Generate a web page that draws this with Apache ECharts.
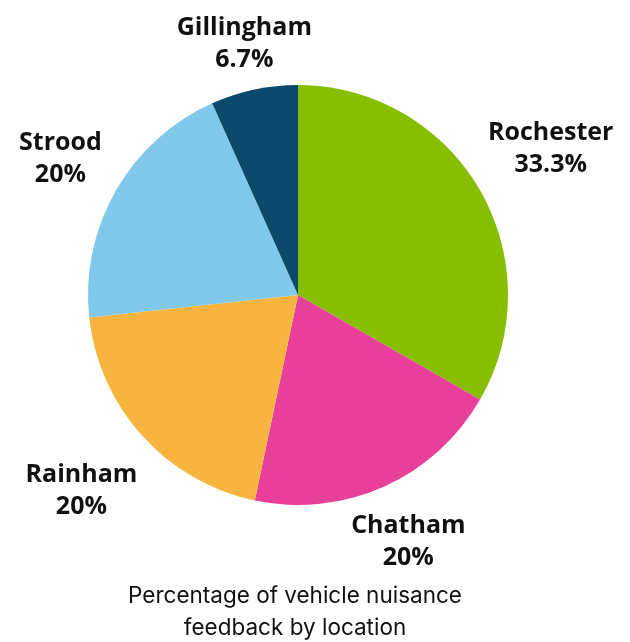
<!DOCTYPE html>
<html>
<head>
<meta charset="utf-8">
<script src="https://cdn.jsdelivr.net/npm/echarts@6/dist/echarts.min.js"></script>
<style>
  html, body { margin: 0; padding: 0; background: #ffffff; }
  #chart { width: 630px; height: 642px; }
</style>
</head>
<body>
<div id="chart"></div>
<script>
// Share of vehicle nuisance feedback per location (percent)
const locations = ['Rochester', 'Chatham', 'Rainham', 'Strood', 'Gillingham'];
const shares = [33.3, 20, 20, 20, 6.7];

// Styling per slice
const sliceColors = ['#88BE00', '#E8409A', '#F7B540', '#80C9EC', '#0B4A6A'];
const labelGaps = [82, 60, 82, 64, 47];

const chart = echarts.init(document.getElementById('chart'), null, { renderer: 'canvas' });

const pieData = locations.map((name, i) => ({
  name: name,
  value: shares[i],
  itemStyle: { color: sliceColors[i] },
  labelLine: { show: false, length: labelGaps[i], length2: 0 }
}));

chart.setOption({
  animation: false,
  backgroundColor: '#ffffff',
  title: {
    text: 'Percentage of vehicle nuisance\nfeedback by location',
    left: 290,
    top: 575,
    textAlign: 'center',
    textStyle: {
      fontFamily: 'Inter, Lato, sans-serif',
      fontWeight: 'normal',
      fontSize: 22.5,
      lineHeight: 32,
      color: '#111111'
    }
  },
  series: [{
    type: 'pie',
    center: [298, 295],
    radius: 210,
    startAngle: 90,
    clockwise: true,
    avoidLabelOverlap: false,
    data: pieData,
    itemStyle: { borderWidth: 0 },
    label: {
      show: true,
      position: 'outside',
      distanceToLabelLine: 0,
      formatter: '{b}\n{c}%',
      fontFamily: '"Open Sans", sans-serif',
      fontWeight: 'bold',
      fontSize: 25,
      lineHeight: 32,
      color: '#111111'
    },
    labelLine: { show: false },
    labelLayout: function () {
      return { align: 'center', verticalAlign: 'middle' };
    }
  }]
});
</script>
</body>
</html>
